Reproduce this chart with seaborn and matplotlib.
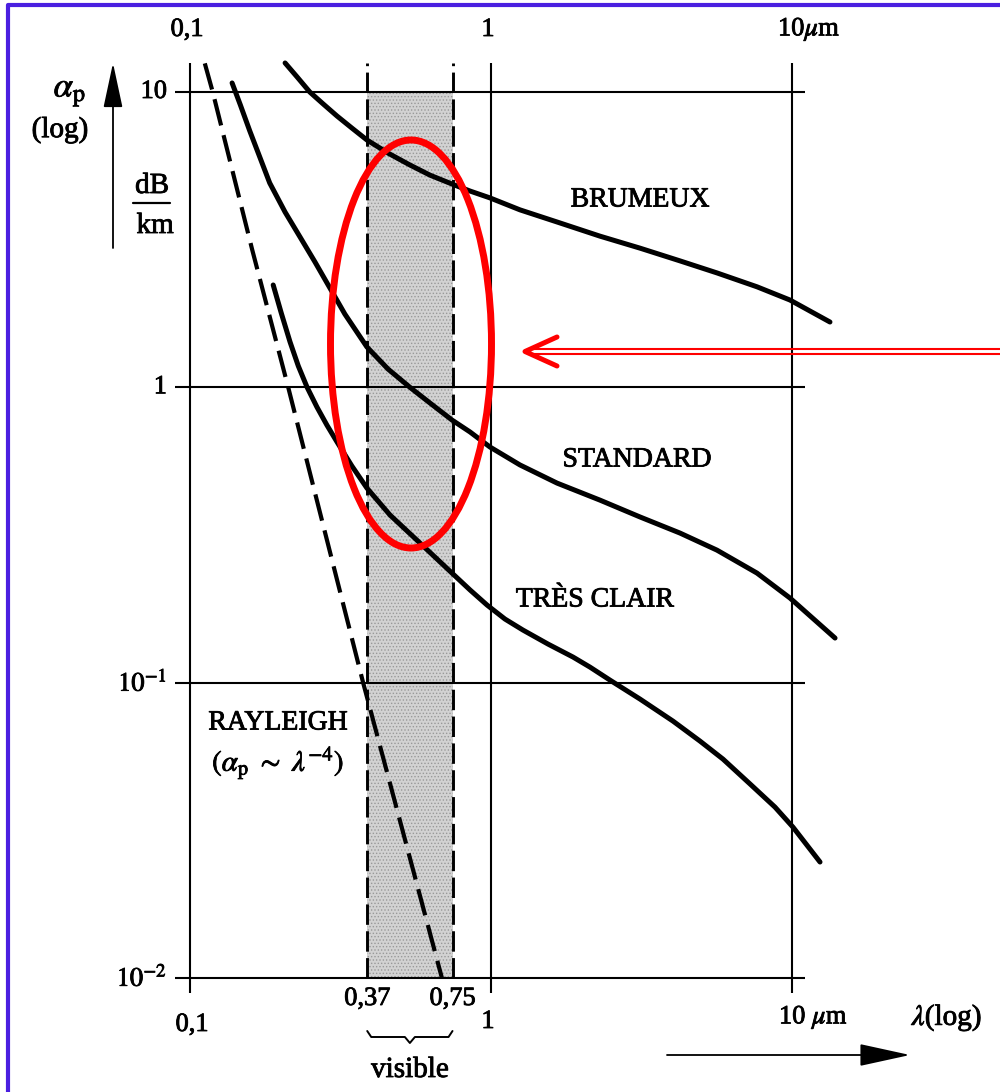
import numpy as np
import pandas as pd
import matplotlib
matplotlib.use('Agg')
import matplotlib.pyplot as plt
import matplotlib.transforms as mtransforms
import matplotlib.patheffects as pe
from matplotlib.patches import Ellipse, FancyArrowPatch
from matplotlib.lines import Line2D
import seaborn as sns

# courbes (lambda en um, alpha_p en dB/km)
lam_brumeux = [0.207, 0.227, 0.250, 0.277, 0.308, 0.345, 0.387, 0.455, 0.538, 0.627,
               0.742, 0.852, 0.992, 1.248, 1.657, 2.302, 3.126, 4.246, 5.634, 7.650,
               9.85, 13.37]
alpha_brumeux = [12.54, 11.24, 10.0, 9.11, 8.29, 7.55, 6.88, 6.21, 5.66, 5.23,
                 4.88, 4.62, 4.38, 3.99, 3.63, 3.25, 2.96, 2.68, 2.44, 2.19,
                 1.975, 1.664]

lam_standard = [0.138, 0.147, 0.158, 0.171, 0.184, 0.207, 0.232, 0.260, 0.285, 0.327,
                0.387, 0.455, 0.538, 0.627, 0.742, 0.852, 0.992, 1.248, 1.657, 2.302,
                3.126, 4.246, 5.634, 7.650, 9.85, 13.90]
alpha_standard = [10.73, 9.04, 7.38, 5.98, 4.92, 3.92, 3.23, 2.66, 2.26, 1.77,
                  1.37, 1.153, 1.0, 0.885, 0.775, 0.706, 0.628, 0.546, 0.474, 0.415,
                  0.364, 0.321, 0.281, 0.235, 0.1934, 0.1416]

lam_clair = [0.189, 0.201, 0.215, 0.229, 0.245, 0.264, 0.285, 0.308, 0.345, 0.387,
             0.462, 0.581, 0.742, 0.852, 0.970, 1.113, 1.277, 1.547, 1.873, 2.132,
             2.485, 3.126, 4.024, 4.948, 5.899, 7.253, 8.780, 10.08, 12.39]
alpha_clair = [2.221, 1.785, 1.424, 1.181, 1.0, 0.858, 0.745, 0.653, 0.5415, 0.456,
               0.3694, 0.297, 0.235, 0.206, 0.1832, 0.1642, 0.1507, 0.1351, 0.1221, 0.1129,
               0.102, 0.0880, 0.0741, 0.0634, 0.0551, 0.0454, 0.0379, 0.0324, 0.0247]

lam_rayleigh = [0.112, 0.119, 0.161, 0.212, 0.376, 0.687]
alpha_rayleigh = [12.5, 10.0, 2.92, 1.0, 0.1, 0.01]

vis_edges = [0.388, 0.745]
vis_labels = ['0,37', '0,75']

x_grid = [0.1, 1, 10]
y_grid = [0.01, 0.1, 1, 10]
y_labels = ['$10^{-2}$', '$10^{-1}$', '1', '10']

sns.set_theme(style='white')
plt.rcParams['font.family'] = ['Liberation Serif', 'DejaVu Serif']
plt.rcParams['mathtext.fontset'] = 'stix'
plt.rcParams['text.color'] = 'black'
plt.rcParams['hatch.linewidth'] = 0.6

W, H = 1000, 1092
fig = plt.figure(figsize=(W / 100, H / 100), dpi=100)
fig.patch.set_facecolor('white')
ink = [pe.withStroke(linewidth=0.6, foreground='black')]


def P(x, y):
    # pixels de l'image -> fraction de figure
    return (x / W, 1 - y / H)


ax = fig.add_axes([175 / W, 1 - 993 / H, 630 / W, 930 / H])
ax.set_xscale('log')
ax.set_yscale('log')
ax.set_xlim(10 ** -1.0498, 10 ** 1.0432)
ax.set_ylim(10 ** -2.0508, 10 ** 1.0982)

# bande visible
ax.fill_between(vis_edges, 0.01, 10, facecolor='#d2d2d2', edgecolor='#999999',
                hatch='.....', lw=0, zorder=1)
ax.vlines(vis_edges, 0.01, ax.get_ylim()[1], colors='black', lw=2.1,
          linestyles=[(0, (7, 2.2))], zorder=3)

curves = [(lam_brumeux, alpha_brumeux), (lam_standard, alpha_standard),
          (lam_clair, alpha_clair)]
for lam, alpha in curves:
    sns.lineplot(x=lam, y=alpha, ax=ax, color='black', lw=3.6, sort=False,
                 estimator=None, clip_on=False, solid_capstyle='round',
                 solid_joinstyle='round', zorder=4)
sns.lineplot(x=lam_rayleigh, y=alpha_rayleigh, ax=ax, color='black', lw=3.0,
             sort=False, estimator=None, clip_on=False,
             linestyle=(0, (6.5, 2.4)), zorder=4)

ax.set_xticks(x_grid)
ax.set_yticks(y_grid)
ax.minorticks_off()
ax.tick_params(length=0, labelbottom=False, labelleft=False)
ax.grid(True, which='major', color='black', lw=1.5)
ax.set_axisbelow(False)
for s in ax.spines.values():
    s.set_visible(False)
ax.set(xlabel='', ylabel='')

fs = 19
bx = mtransforms.blended_transform_factory(ax.transData, fig.transFigure)
by = mtransforms.blended_transform_factory(fig.transFigure, ax.transData)
txt = dict(va='center', path_effects=ink)

# graduations du haut
for x, lab, dx, ha in zip(x_grid, ['0,1', '1', r'10$\mu$m'], [-3, -3, -14], ['center', 'center', 'left']):
    ax.annotate(lab, xy=(x, P(0, 30)[1]), xycoords=bx, xytext=(dx, 0),
                textcoords='offset pixels', ha=ha, fontsize=fs, **txt)

# graduations du bas
ax.annotate('0,1', xy=(x_grid[0], P(0, 1025)[1]), xycoords=bx, xytext=(2, 0),
            textcoords='offset pixels', ha='center', fontsize=fs, **txt)
ax.annotate('1', xy=(x_grid[1], P(0, 1022)[1]), xycoords=bx, xytext=(-3, 0),
            textcoords='offset pixels', ha='center', fontsize=fs, **txt)
ax.annotate(r'10 $\mu$m', xy=(x_grid[2], P(0, 1018)[1]), xycoords=bx, xytext=(-13, 0),
            textcoords='offset pixels', ha='left', fontsize=fs, **txt)
for x, lab in zip(vis_edges, vis_labels):
    ax.text(x, P(0, 999)[1], lab, transform=bx, ha='center', fontsize=fs, **txt)

for y, lab in zip(y_grid, y_labels):
    ax.text(167 / W, y, lab, transform=by, ha='right', fontsize=fs, **txt)

# accolade "visible"
bl, br = ax.transData.transform([(vis_edges[0], 1), (vis_edges[1], 1)])[:, 0]
bm = (bl + br) / 2
bxs = [bl, bl + 4, bm - 5, bm, bm + 5, br - 4, br]
bys = [1031, 1037, 1037, 1043, 1037, 1037, 1031]
fig.add_artist(Line2D([v / W for v in bxs], [1 - v / H for v in bys],
                      transform=fig.transFigure, color='black', lw=1.4))
fig.text(*P(410, 1070), 'visible', ha='center', fontsize=21, **txt)

# libellés des courbes
fig.text(*P(640, 200), 'BRUMEUX', ha='center', fontsize=20, **txt)
fig.text(*P(637, 460), 'STANDARD', ha='center', fontsize=20, **txt)
fig.text(*P(595, 600), 'TRÈS CLAIR', ha='center', fontsize=20, **txt)
fig.text(*P(278, 723), 'RAYLEIGH', ha='center', fontsize=20, **txt)
fig.text(*P(278, 763), r'$(\alpha_\mathrm{p}\ \sim\ \lambda^{-4})$', ha='center',
         fontsize=21, **txt)

# titre de l'axe y
fig.text(*P(70, 92), r'$\alpha_\mathrm{p}$', ha='center', fontsize=25, **txt)
fig.text(*P(60, 130), '(log)', ha='center', fontsize=21, **txt)
fig.text(*P(152, 186), 'dB', ha='center', fontsize=21, **txt)
fig.add_artist(Line2D([133 / W, 170 / W], [1 - 203 / H] * 2, transform=fig.transFigure,
                      color='black', lw=1.6))
fig.text(*P(155, 226), 'km', ha='center', fontsize=21, **txt)
fig.add_artist(FancyArrowPatch(P(113, 248), P(113, 63), transform=fig.transFigure,
                               arrowstyle='-|>,head_length=1.4,head_width=0.3',
                               mutation_scale=20, color='black', lw=1.3,
                               shrinkA=0, shrinkB=0))

# titre de l'axe x
fig.text(*P(947, 1018), r'$\lambda$(log)', ha='center', fontsize=21, **txt)
fig.add_artist(FancyArrowPatch(P(667, 1055), P(910, 1055), transform=fig.transFigure,
                               arrowstyle='-|>,head_length=1.6,head_width=0.35',
                               mutation_scale=20, color='black', lw=1.3,
                               shrinkA=0, shrinkB=0))

# annotation rouge
fig.add_artist(Ellipse(P(411, 344), 161 / W, 408 / H, transform=fig.transFigure,
                       fill=False, ec='#ff0000', lw=5))
for yy in (349, 354):
    fig.add_artist(Line2D([533 / W, 1.0], [1 - yy / H] * 2, transform=fig.transFigure,
                          color='#ff0000', lw=1.5))
fig.add_artist(Line2D([557 / W, 525 / W, 557 / W], [1 - 337 / H, 1 - 351.5 / H, 1 - 366 / H],
                      transform=fig.transFigure, color='#ff0000', lw=3.6,
                      solid_capstyle='round', solid_joinstyle='round'))

# cadre bleu
fig.add_artist(Line2D([8 / W, 8 / W, 1.0], [0.0, 1 - 5 / H, 1 - 5 / H],
                      transform=fig.transFigure, color='#4a1fe0', lw=3))

fig.savefig('out.png', dpi=100)
